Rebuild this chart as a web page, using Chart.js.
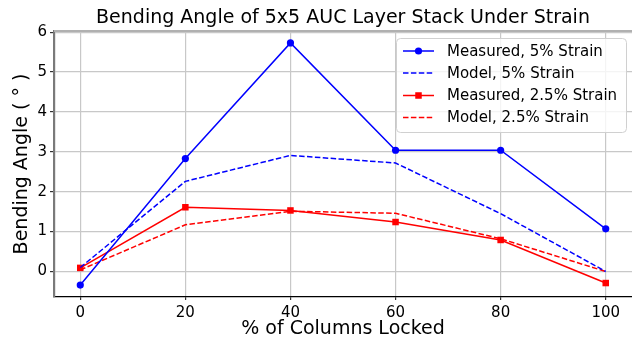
<!DOCTYPE html>
<html>
<head>
<meta charset="utf-8">
<script src="https://cdn.jsdelivr.net/npm/chart.js@4/dist/chart.umd.min.js"></script>
<style>
  html, body { margin: 0; padding: 0; background: #fff; }
  #wrap { width: 632px; height: 342px; position: relative; }
</style>
</head>
<body>
<div id="wrap"><canvas id="c" width="632" height="342"></canvas></div>
<script>
const chartTitle = "Bending Angle of 5x5 AUC Layer Stack Under Strain";
const xTitle = "% of Columns Locked";
const yTitle = "Bending Angle ( \u00B0 )";
const columnsLocked = [0, 20, 40, 60, 80, 100];
const measured5 = [-0.34, 2.83, 5.73, 3.04, 3.04, 1.07];
const model5 = [0.10, 2.26, 2.91, 2.72, 1.45, 0.0];
const measured25 = [0.09, 1.61, 1.53, 1.24, 0.79, -0.29];
const model25 = [0.04, 1.17, 1.51, 1.46, 0.82, 0.0];
const xTicks = [0, 20, 40, 60, 80, 100];
const yTicks = [0, 1, 2, 3, 4, 5, 6];
const seriesLabels = ["Measured, 5% Strain", "Model, 5% Strain", "Measured, 2.5% Strain", "Model, 2.5% Strain"];

const FONT = "'DejaVu Sans', sans-serif";
const pts = (ys) => columnsLocked.map((x, i) => ({ x: x, y: ys[i] }));

const datasets = [
  { label: seriesLabels[0], data: pts(measured5), borderColor: '#0000ff', backgroundColor: '#0000ff',
    borderWidth: 1.5, pointStyle: 'circle', pointRadius: 3.6, pointBorderWidth: 0 },
  { label: seriesLabels[1], data: pts(model5), borderColor: '#0000ff', backgroundColor: '#0000ff',
    borderWidth: 1.5, borderDash: [5.5, 2.4], pointRadius: 0 },
  { label: seriesLabels[2], data: pts(measured25), borderColor: '#ff0000', backgroundColor: '#ff0000',
    borderWidth: 1.5, pointStyle: 'rect', pointRadius: 4.6, pointBorderWidth: 0 },
  { label: seriesLabels[3], data: pts(model25), borderColor: '#ff0000', backgroundColor: '#ff0000',
    borderWidth: 1.5, borderDash: [5.5, 2.4], pointRadius: 0 },
];

const decor = {
  id: 'decor',
  beforeDatasetsDraw(chart) {
    const { ctx, chartArea: a } = chart;
    ctx.save();
    ctx.strokeStyle = '#b0b0b0';
    ctx.lineWidth = 2;
    ctx.beginPath(); ctx.moveTo(a.left, a.top); ctx.lineTo(a.right, a.top); ctx.stroke();
    ctx.restore();
  },
  afterDraw(chart) {
    const { ctx, chartArea: a } = chart;
    ctx.save();
    ctx.fillStyle = '#000';
    ctx.textAlign = 'center';
    ctx.textBaseline = 'middle';
    ctx.font = '19px ' + FONT;
    ctx.fillText(chartTitle, (a.left + a.right) / 2, 18);
    ctx.fillText(xTitle, (a.left + a.right) / 2, 329);
    ctx.save();
    ctx.translate(22, (a.top + a.bottom) / 2);
    ctx.rotate(-Math.PI / 2);
    ctx.fillText(yTitle, 0, 0);
    ctx.restore();

    // legend
    const lx = 396, ly = 38, lw = 230, lh = 94;
    ctx.beginPath();
    ctx.roundRect(lx + 0.5, ly + 0.5, lw, lh, 4);
    ctx.fillStyle = 'rgba(255,255,255,0.8)';
    ctx.fill();
    ctx.strokeStyle = '#d0d0d0';
    ctx.lineWidth = 1;
    ctx.stroke();
    const rows = [51, 73, 95.5, 117.5];
    ctx.font = '15px ' + FONT;
    ctx.textAlign = 'left';
    chart.data.datasets.forEach((ds, i) => {
      const y = rows[i];
      ctx.save();
      ctx.strokeStyle = ds.borderColor;
      ctx.lineWidth = ds.borderWidth;
      ctx.setLineDash(ds.borderDash || []);
      ctx.beginPath(); ctx.moveTo(403, y); ctx.lineTo(434, y); ctx.stroke();
      ctx.setLineDash([]);
      if (ds.pointRadius > 0) {
        ctx.fillStyle = ds.backgroundColor;
        if (ds.pointStyle === 'rect') {
          const s = ds.pointRadius * Math.SQRT1_2;
          ctx.fillRect(418.5 - s, y - s, 2 * s, 2 * s);
        } else {
          ctx.beginPath(); ctx.arc(418.5, y, ds.pointRadius, 0, Math.PI * 2); ctx.fill();
        }
      }
      ctx.restore();
      ctx.fillStyle = '#000';
      ctx.fillText(ds.label, 447, y + 1);
    });
    ctx.restore();
  }
};

new Chart(document.getElementById('c'), {
  type: 'line',
  data: { datasets: datasets },
  options: {
    responsive: false,
    animation: false,
    devicePixelRatio: 1,
    layout: { autoPadding: false, padding: { top: 31, right: 0, left: 0, bottom: 0 } },
    plugins: { legend: { display: false }, title: { display: false }, tooltip: { enabled: false } },
    elements: { line: { tension: 0 } },
    scales: {
      x: {
        type: 'linear', min: -5, max: 105,
        afterBuildTicks: (s) => { s.ticks = xTicks.map(v => ({ value: v })); },
        afterFit: (s) => { s.height = 45; s.paddingLeft = 0; s.paddingRight = 0; },
        grid: { color: '#c8c8c8', lineWidth: 1.2, tickLength: 3, tickColor: '#333' },
        border: { color: '#000', width: 1.2 },
        ticks: { color: '#000', font: { family: FONT, size: 15 }, padding: 4, maxRotation: 0 }
      },
      y: {
        type: 'linear', min: -0.64, max: 6.03,
        afterBuildTicks: (s) => { s.ticks = yTicks.map(v => ({ value: v })); },
        afterFit: (s) => { s.width = 54; s.paddingTop = 0; s.paddingBottom = 0; },
        grid: { color: '#c8c8c8', lineWidth: 1.2, tickLength: 4, tickColor: '#333' },
        border: { color: '#7a7a7a', width: 2.2 },
        ticks: { color: '#000', font: { family: FONT, size: 15 }, padding: 3 }
      }
    }
  },
  plugins: [decor]
});
</script>
</body>
</html>
